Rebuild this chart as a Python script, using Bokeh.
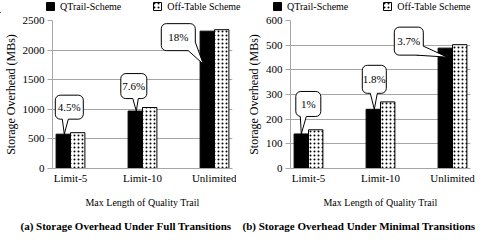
from bokeh.plotting import figure
from bokeh.models import (Range1d, FixedTicker, Legend, LegendItem, Title,
                          ColumnDataSource)
from bokeh.layouts import row, column
from bokeh.embed import file_html
from bokeh.resources import INLINE
from bokeh.core.properties import value

# ---------------- data ----------------
categories = ["Limit-5", "Limit-10", "Unlimited"]
series_names = ["QTrail-Scheme", "Off-Table Scheme"]

full_qtrail = [580, 970, 2320]
full_offtable = [605, 1030, 2345]
full_pct = ["4.5%", "7.6%", "18%"]
full_yticks = [0, 500, 1000, 1500, 2000, 2500]

min_qtrail = [140, 240, 488]
min_offtable = [157, 270, 502]
min_pct = ["1%", "1.8%", "3.7%"]
min_yticks = [0, 100, 200, 300, 400, 500, 600]

x_title = "Max Length of Quality Trail"
y_title = "Storage Overhead (MBs)"
captions = ["(a) Storage Overhead Under Full Transitions",
            "(b) Storage Overhead Under Minimal Transitions"]

# ---------------- styling / geometry ----------------
FONT = "Liberation Serif"
PLOT_H = 148
LEGEND_H = 13
GRID = "#a6a6a6"
QT_STYLE = dict(fill_color="black", line_color="black", line_width=1)
OT_STYLE = dict(fill_color="white", line_color="black", line_width=1,
                hatch_pattern=".", hatch_color="black", hatch_scale=4,
                hatch_weight=1)

# callout geometry in pixels relative to black bar top (y up)
full_callouts = [
    dict(dx=6, dy=27, w=28, h=24, b1=(-7, -12), b2=(-1, -12), tip=(1, 0)),
    dict(dx=-1.5, dy=25, w=26, h=25, b1=(-1, -12.5), b2=(4.5, -12.5), tip=(1, 0)),
    dict(dx=-29, dy=-6, w=34, h=27, b1=(17, -5), b2=(10, -13.5), tip=(-4, -33)),
]
min_callouts = [
    dict(dx=7, dy=30, w=25, h=25, b1=(-8, -12.5), b2=(-2, -12.5), tip=(0, 0)),
    dict(dx=1, dy=30, w=24, h=28, b1=(-4, -14), b2=(3, -14), tip=(1, 0)),
    dict(dx=-36.5, dy=7, w=29, h=28, b1=(14.5, -5), b2=(7.5, -14), tip=(2, -9)),
]


def make_panel(qt, ot, pct, yticks, frame_w, callouts, caption,
               min_left, min_right, cap_offset):
    ymax = yticks[-1]
    ypx = PLOT_H / ymax
    p = figure(frame_width=frame_w, frame_height=PLOT_H,
               x_range=Range1d(-0.25, 2.25), y_range=Range1d(0, ymax),
               output_backend="svg", toolbar_location=None,
               min_border_top=7, min_border_left=min_left,
               min_border_right=min_right, min_border_bottom=0)
    p.outline_line_color = None
    p.xgrid.grid_line_color = None
    p.ygrid.grid_line_color = GRID
    p.ygrid.ticker = FixedTicker(ticks=yticks)

    xs = list(range(len(categories)))
    src = ColumnDataSource(dict(x=xs, xq=[x - 0.1 for x in xs],
                                xo=[x + 0.1 for x in xs], q=qt, o=ot))
    p.vbar(x="xq", top="q", width=0.2, source=src, **QT_STYLE)
    p.vbar(x="xo", top="o", width=0.2, source=src, **OT_STYLE)

    # axes
    p.xaxis.ticker = FixedTicker(ticks=xs)
    p.xaxis.major_label_overrides = {i: c for i, c in zip(xs, categories)}
    p.yaxis.ticker = FixedTicker(ticks=yticks)
    for ax in (p.xaxis[0], p.yaxis[0]):
        ax.axis_line_color = GRID
        ax.major_label_text_font = FONT
        ax.major_label_text_font_size = "11px"
        ax.major_label_text_color = "black"
        ax.axis_label_text_font = FONT
        ax.axis_label_text_font_style = "normal"
        ax.axis_label_text_color = "black"
        ax.minor_tick_line_color = None
    p.xaxis.axis_label_text_font_size = "10px"
    p.yaxis.axis_label_text_font_size = "12px"
    p.xaxis.major_tick_line_color = None
    p.xaxis.major_tick_out = 0
    p.xaxis.major_tick_in = 0
    p.xaxis.major_label_standoff = 3
    p.xaxis.axis_label = x_title
    p.xaxis.axis_label_standoff = 10
    p.yaxis.major_tick_line_color = GRID
    p.yaxis.major_tick_in = 0
    p.yaxis.major_tick_out = 5
    p.yaxis.major_label_standoff = 3
    p.yaxis.axis_label = y_title
    p.yaxis.axis_label_standoff = 2

    # callouts
    xpx = frame_w / 2.5
    cx, cy, ws, hs = [], [], [], []
    fx, fy, lx, ly = [], [], [], []
    for i, (v, s) in enumerate(zip(qt, callouts)):
        bx, by = i - 0.1, v
        ccx = bx + s["dx"] / xpx
        ccy = by + s["dy"] / ypx
        cx.append(ccx); cy.append(ccy); ws.append(s["w"]); hs.append(s["h"])
        pts = []
        for b in (s["b1"], s["b2"]):
            if abs(abs(b[0]) - s["w"] / 2) < 0.01:
                inner = (b[0] - (2 if b[0] > 0 else -2), b[1])
            else:
                inner = (b[0], b[1] + 2)
            pts.append((b, inner))
        tipx = bx + s["tip"][0] / xpx
        tipy = by + s["tip"][1] / ypx
        (b1, i1), (b2, i2) = pts
        conv = lambda q: (ccx + q[0] / xpx, ccy + q[1] / ypx)
        poly = [conv(i1), conv(b1), (tipx, tipy), conv(b2), conv(i2)]
        fx.append([q[0] for q in poly]); fy.append([q[1] for q in poly])
        line = [conv(b1), (tipx, tipy), conv(b2)]
        lx.append([q[0] for q in line]); ly.append([q[1] for q in line])

    p.rect(x=cx, y=cy, width=ws, height=hs, width_units="screen",
           height_units="screen", border_radius=5, fill_color="white",
           line_color="black", line_width=1)
    p.patches(xs=fx, ys=fy, fill_color="white", line_color=None)
    p.multi_line(xs=lx, ys=ly, line_color="black", line_width=1)
    p.text(x=cx, y=cy, text=pct, text_align="center", text_baseline="middle",
           text_font=value(FONT), text_font_size="11px", text_color="black")

    p.add_layout(Title(text=caption, align="left", offset=cap_offset,
                       text_font=FONT, text_font_size="11px",
                       text_font_style="bold", text_color="black",
                       standoff=14), "below")
    return p


p1 = make_panel(full_qtrail, full_offtable, full_pct, full_yticks, 180,
                full_callouts, captions[0], 48, 4, -32)
p2 = make_panel(min_qtrail, min_offtable, min_pct, min_yticks, 180,
                min_callouts, captions[1], 54, 9, -48)

# legend strip above both panels (legend proxies lie outside the view)
W = 475
lf = figure(width=W, height=LEGEND_H, x_range=Range1d(0, W),
            y_range=Range1d(0, LEGEND_H), x_axis_type=None, y_axis_type=None,
            output_backend="svg", toolbar_location=None, min_border=0)
lf.outline_line_color = None
lf.grid.visible = False
proxy_q = lf.vbar(x=[-100], top=[1], width=10, **QT_STYLE)
proxy_o = lf.vbar(x=[-100], top=[1], width=10, **OT_STYLE)
for lx0, spacing in ((45, 31), (272, 34)):
    leg = Legend(items=[LegendItem(label=series_names[0], renderers=[proxy_q]),
                        LegendItem(label=series_names[1], renderers=[proxy_o])],
                 orientation="horizontal", location=(lx0, 1),
                 glyph_width=10, glyph_height=10, label_height=12,
                 label_standoff=5, spacing=spacing, padding=0, margin=0,
                 border_line_color=None, background_fill_alpha=0,
                 label_text_font=FONT, label_text_font_size="10px",
                 label_text_color="black")
    lf.add_layout(leg, "center")

layout = column(lf, row(p1, p2))
open("out.html", "w").write(file_html(layout, INLINE))
